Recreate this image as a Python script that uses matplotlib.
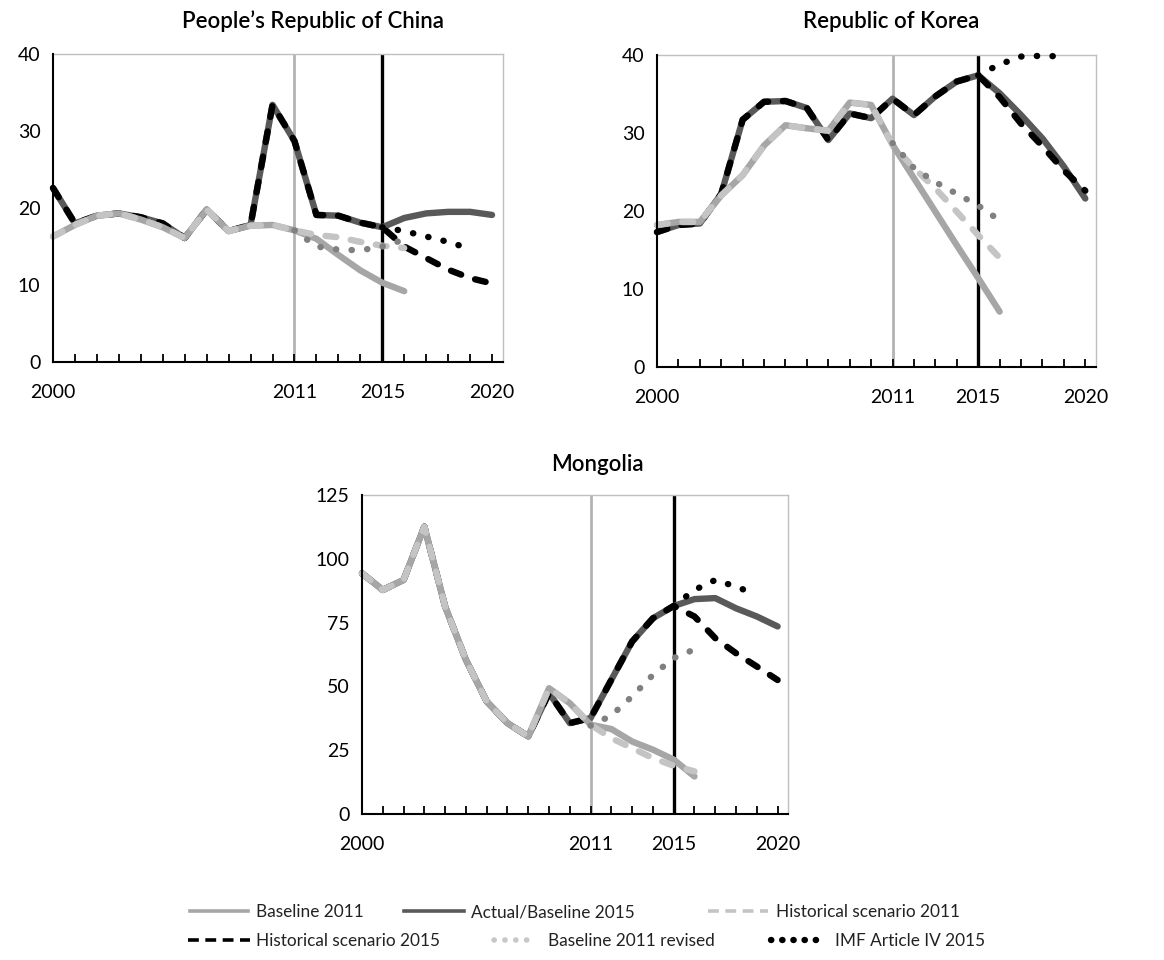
import matplotlib
matplotlib.use("Agg")
import matplotlib.pyplot as plt
from matplotlib.lines import Line2D
from matplotlib.ticker import FixedLocator, MultipleLocator

plt.rcParams['font.family'] = ['Lato', 'DejaVu Sans']

years = list(range(2000, 2021))
years_b = list(range(2000, 2017))
years_rev = list(range(2011, 2017))
years_imf = list(range(2015, 2020))

# ---- People's Republic of China ----
cn_actual = [22.6, 18.0, 19.0, 19.3, 18.8, 18.0, 16.1, 19.8, 17.0, 17.8, 33.4,
             28.7, 19.1, 19.0, 18.1, 17.5, 18.7, 19.3, 19.5, 19.5, 19.1]
cn_hist15 = [22.6, 18.0, 19.0, 19.3, 18.8, 18.0, 16.1, 19.8, 17.0, 17.8, 33.4,
             28.7, 19.1, 19.0, 18.1, 17.5, 15.0, 13.5, 12.0, 10.9, 10.2]
cn_base11 = [16.3, 17.8, 19.0, 19.3, 18.5, 17.5, 16.1, 19.8, 17.0, 17.7, 17.8,
             17.1, 16.0, 13.9, 11.9, 10.3, 9.2]
cn_hist11 = [16.3, 17.8, 19.0, 19.3, 18.5, 17.5, 16.1, 19.8, 17.0, 17.7, 17.8,
             17.1, 16.5, 16.2, 15.6, 15.1, 14.8]
cn_rev11 = [17.1, 15.0, 14.6, 14.5, 15.0, 15.9]
cn_imf = [17.5, 17.0, 16.3, 15.6, 14.7]

# ---- Republic of Korea ----
kr_actual = [17.3, 18.2, 18.4, 22.2, 31.7, 34.0, 34.1, 33.2, 29.1, 32.5, 31.9,
             34.4, 32.3, 34.7, 36.6, 37.4, 35.1, 32.3, 29.3, 25.7, 21.6]
kr_hist15 = [17.3, 18.2, 18.4, 22.2, 31.7, 34.0, 34.1, 33.2, 29.1, 32.5, 31.9,
             34.4, 32.3, 34.7, 36.6, 37.4, 34.6, 31.2, 28.3, 25.2, 22.6]
kr_base11 = [18.2, 18.6, 18.6, 22.0, 24.6, 28.4, 31.0, 30.6, 30.3, 33.9, 33.6,
             28.5, 24.2, 19.9, 15.6, 11.4, 7.1]
kr_hist11 = [18.2, 18.6, 18.6, 22.0, 24.6, 28.4, 31.0, 30.6, 30.3, 33.9, 33.6,
             28.5, 25.5, 22.9, 19.9, 16.9, 14.0]
kr_rev11 = [28.7, 25.5, 23.7, 22.2, 20.7, 18.8]
kr_imf = [37.4, 38.8, 39.8, 39.9, 39.8]

# ---- Mongolia ----
mn_actual = [94.3, 87.8, 91.7, 112.6, 81.3, 60.4, 44.1, 35.6, 30.4, 47.4, 35.6,
             37.6, 52.6, 67.6, 76.7, 81.5, 84.2, 84.6, 80.6, 77.4, 73.5]
mn_hist15 = [94.3, 87.8, 91.7, 112.6, 81.3, 60.4, 44.1, 35.6, 30.4, 47.4, 35.6,
             37.6, 52.6, 67.6, 76.7, 81.5, 77.4, 68.9, 63.0, 57.8, 52.5]
mn_base11 = [94.3, 87.8, 91.7, 112.6, 81.3, 60.4, 44.1, 35.6, 30.4, 49.3, 43.4,
             35.0, 33.3, 28.4, 25.2, 21.3, 14.7]
mn_hist11 = [94.3, 87.8, 91.7, 112.6, 81.3, 60.4, 44.1, 35.6, 30.4, 49.3, 43.4,
             35.0, 29.7, 25.8, 21.9, 18.9, 16.7]
mn_rev11 = [34.6, 38.6, 46.1, 54.5, 61.1, 64.5]
mn_imf = [81.5, 87.8, 91.7, 89.1, 85.9]

titles = ["People\u2019s Republic of China", "Republic of Korea", "Mongolia"]
xtick_years = [2000, 2011, 2015, 2020]
event_years = [2011, 2015]
legend_labels = ["Baseline 2011", "Actual/Baseline 2015", "Historical scenario 2011",
                 "Historical scenario 2015", "Baseline 2011 revised", "IMF Article IV 2015"]

C_BASE11 = "#a6a6a6"
C_ACT = "#595959"
C_HIST11 = "#c4c4c4"
C_HIST15 = "#000000"
C_REV = "#808080"
C_IMF = "#000000"

LW = 4.6
DASH = (1.7, 2.3)
DOT = (0.05, 2.4)

fig = plt.figure(figsize=(11.64, 9.6), dpi=100)

W, H = 1164, 960
def ax_rect(l, r, t, b):
    return [l / W, 1 - b / H, (r - l) / W, (b - t) / H]

panels = [
    dict(rect=ax_rect(53, 503, 54, 362), ymax=40, ystep=10,
         data=(cn_base11, cn_actual, cn_hist11, cn_hist15, cn_rev11, cn_imf),
         title_xy=(313, 21)),
    dict(rect=ax_rect(657, 1096, 55, 367), ymax=40, ystep=10,
         data=(kr_base11, kr_actual, kr_hist11, kr_hist15, kr_rev11, kr_imf),
         title_xy=(891, 21)),
    dict(rect=ax_rect(362, 788, 495, 814), ymax=125, ystep=25,
         data=(mn_base11, mn_actual, mn_hist11, mn_hist15, mn_rev11, mn_imf),
         title_xy=(597, 464)),
]

common = dict(solid_capstyle='round', dash_capstyle='round',
              solid_joinstyle='round', dash_joinstyle='round', clip_on=False)

for p, title in zip(panels, titles):
    ax = fig.add_axes(p['rect'])
    base11, actual, hist11, hist15, rev11, imf = p['data']
    ax.axvline(event_years[0], color="#b3b3b3", lw=2.0, zorder=1)
    ax.axvline(event_years[1], color="#000000", lw=2.4, zorder=1)
    ax.plot(years, actual, color=C_ACT, lw=LW, zorder=2, **common)
    ax.plot(years, hist15, color=C_HIST15, lw=LW, dashes=DASH, zorder=3, **common)
    ax.plot(years_b, base11, color=C_BASE11, lw=LW, zorder=4, **common)
    ax.plot(years_b, hist11, color=C_HIST11, lw=LW, dashes=DASH, zorder=5, **common)
    ax.plot(years_rev, rev11, color=C_REV, lw=LW, dashes=DOT, zorder=6, **common)
    ax.plot(years_imf, imf, color=C_IMF, lw=LW, dashes=DOT, zorder=6, **common)

    ax.set_xlim(2000, 2020.5)
    ax.set_ylim(0, p['ymax'])
    ax.xaxis.set_major_locator(FixedLocator(xtick_years))
    ax.xaxis.set_minor_locator(MultipleLocator(1))
    ax.set_xticklabels([str(y) for y in xtick_years])
    ax.yaxis.set_major_locator(MultipleLocator(p['ystep']))
    ax.tick_params(axis='x', which='both', direction='in', length=6, width=1.3,
                   color='black', pad=16, labelsize=14)
    ax.tick_params(axis='y', which='both', length=0, pad=9, labelsize=14)
    for s in ('top', 'right'):
        ax.spines[s].set_color('#bfbfbf')
        ax.spines[s].set_linewidth(1.0)
    for s in ('left', 'bottom'):
        ax.spines[s].set_color('black')
        ax.spines[s].set_linewidth(1.5)
        ax.spines[s].set_zorder(7)
    tx, ty = p['title_xy']
    fig.text(tx / W, 1 - ty / H, title, ha='center', va='center',
             fontsize=16, fontweight='semibold')

# Legend (one entry per legend to match free flow placement)
hl = [
    Line2D([], [], color=C_BASE11, lw=2.6),
    Line2D([], [], color=C_ACT, lw=2.6),
    Line2D([], [], color=C_HIST11, lw=2.6, dashes=(3.0, 1.8)),
    Line2D([], [], color=C_HIST15, lw=2.6, dashes=(3.0, 1.8)),
    Line2D([], [], color="#c8c8c8", lw=4.0, dashes=(0.05, 1.9), dash_capstyle='round'),
    Line2D([], [], color="#000000", lw=4.6, dashes=(0.05, 1.7), dash_capstyle='round'),
]
# positions: (handle start px, row center px, handle length px, text gap px)
leg_pos = [(190, 912, 58, 8), (404, 912, 60, 7), (708, 912, 60, 8),
           (188, 941, 62, 6), (494, 941, 42, 12), (771, 941, 46, 18)]
FS = 12.4
fs_px = FS * 100 / 72
for h, lab, (x0, yc, hlen, gap) in zip(hl, legend_labels, leg_pos):
    fig.legend(handles=[h], labels=[lab], loc='center left',
               bbox_to_anchor=(x0 / W, 1 - yc / H), frameon=False,
               borderpad=0, borderaxespad=0, handlelength=hlen / fs_px,
               handletextpad=gap / fs_px, fontsize=FS, labelcolor='#222222')

fig.savefig("out.png", dpi=100)
